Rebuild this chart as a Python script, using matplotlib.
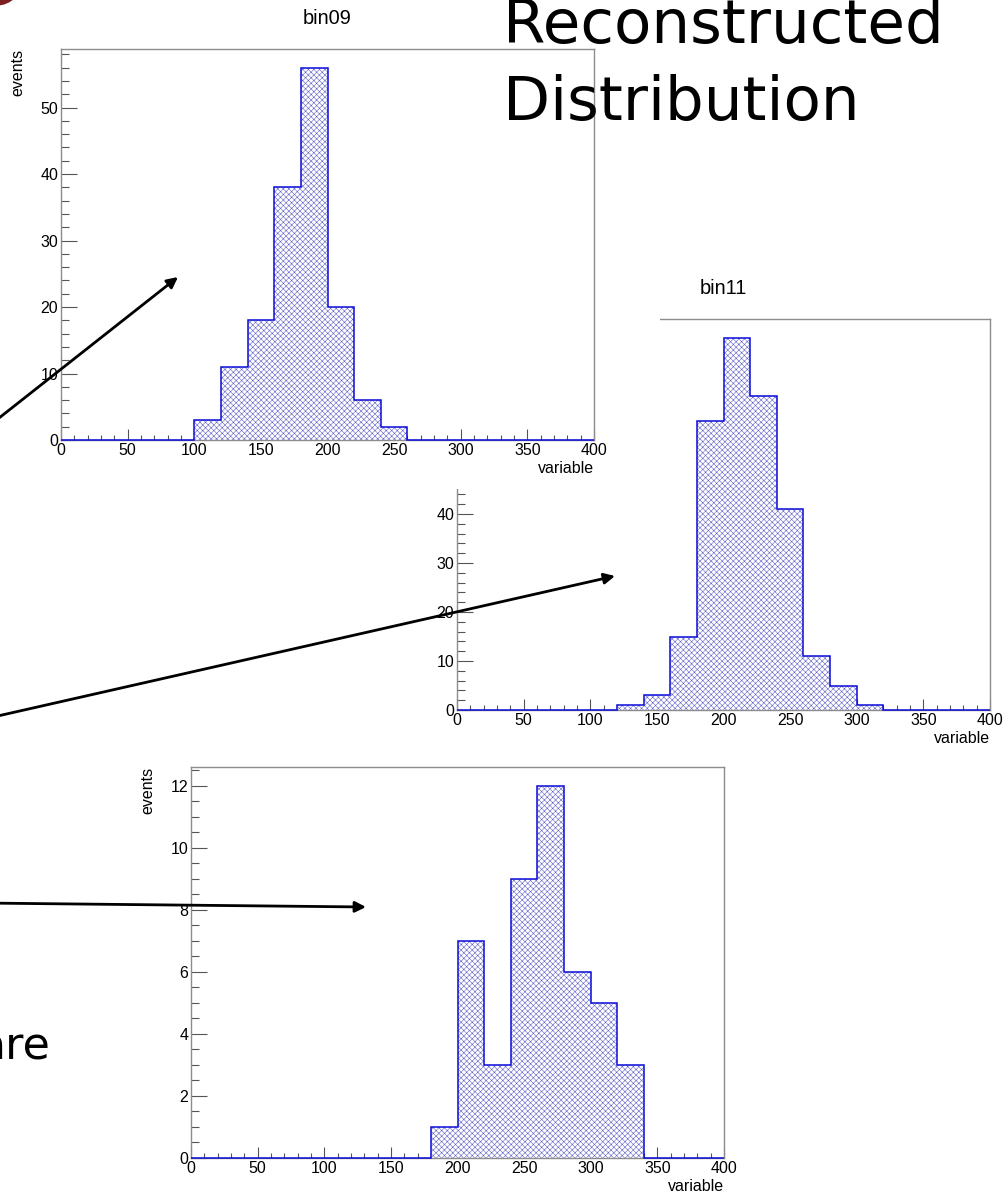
import numpy as np
import matplotlib.pyplot as plt
from matplotlib.ticker import MultipleLocator
from matplotlib.patches import Circle

plt.rcParams['font.family'] = ['Liberation Sans', 'DejaVu Sans']
plt.rcParams['hatch.linewidth'] = 0.4

# histogram contents: 20 bins of width 20 on 0..400
edges = np.arange(0, 401, 20)
bin09_counts = [0, 0, 0, 0, 0, 3, 11, 18, 38, 56, 20, 6, 2, 0, 0, 0, 0, 0, 0, 0]
bin11_counts = [0, 0, 0, 0, 0, 0, 1, 3, 15, 59, 76, 64, 41, 11, 5, 1, 0, 0, 0, 0]
bin_low_counts = [0, 0, 0, 0, 0, 0, 0, 0, 0, 1, 7, 3, 9, 12, 6, 5, 3, 0, 0, 0]

W, H = 1006, 1195
fig = plt.figure(figsize=(W / 100, H / 100), dpi=100)


def box(l, t, r, b):
    # pixel box (from the top-left corner) -> figure fraction rect
    return [l / W, 1 - b / H, (r - l) / W, (b - t) / H]


def hist_panel(rect, counts, title, ymajor, yminor, zorder):
    ax = fig.add_axes(rect, zorder=zorder)
    ax.set_facecolor('white')
    ax.stairs(counts, edges, fill=True, facecolor='white', edgecolor='#6262c8',
              hatch='xxxxxx', linewidth=0, zorder=2)
    ax.stairs(counts, edges, color='#0a0ad8', linewidth=1.1, zorder=3, clip_on=False)
    ax.set_xlim(0, 400)
    ax.set_ylim(0, max(counts) * 1.05)

    ax.xaxis.set_major_locator(MultipleLocator(50))
    ax.xaxis.set_minor_locator(MultipleLocator(10))
    ax.yaxis.set_major_locator(MultipleLocator(ymajor))
    ax.yaxis.set_minor_locator(MultipleLocator(yminor))
    ax.tick_params(which='both', direction='in', top=False, right=False,
                   color='#555555', width=0.8, labelsize=11.5, pad=2)
    ax.tick_params(axis='x', which='major', length=7.7)
    ax.tick_params(axis='x', which='minor', length=3.8)
    ax.tick_params(axis='y', which='major', length=11.5)
    ax.tick_params(axis='y', which='minor', length=5.8)
    for s in ax.spines.values():
        s.set_color('#8c8c8c')
        s.set_linewidth(1.0)

    ax.set_xlabel('variable', fontsize=11.5, loc='right')
    ax.xaxis.set_label_coords(1.0, -21 / 391)
    ax.set_ylabel('events', fontsize=11.5, loc='top')
    ax.yaxis.set_label_coords(-0.066, 1.0)
    if title:
        ax.set_title(title, fontsize=14.4, pad=18)
    return ax


# bin11 sits underneath, partly hidden by the bin09 canvas
hist_panel(box(457, 319, 990, 710), bin11_counts, 'bin11', 10, 2, zorder=1)

cover = fig.add_axes(box(0, 0, 660, 489), zorder=2)
cover.set_facecolor('white')
cover.axis('off')
cover.add_patch(plt.Rectangle((0, 0), 1, 1, transform=cover.transAxes,
                              facecolor='white', edgecolor='none'))

hist_panel(box(61, 49, 594, 440), bin09_counts, 'bin09', 10, 2, zorder=3)
hist_panel(box(191, 767, 724, 1158), bin_low_counts, None, 2, 0.5, zorder=3)

# slide overlay: headline, text fragment and arrows
ov = fig.add_axes([0, 0, 1, 1], zorder=10)
ov.set_xlim(0, W)
ov.set_ylim(H, 0)
ov.axis('off')
ov.patch.set_alpha(0)

ov.add_patch(Circle((-4, -22), 27, color='#7d1f22', clip_on=False))

head_font = dict(family=['DejaVu Sans'], color='black')
ov.text(503, 43, 'Reconstructed', fontsize=44, va='baseline', ha='left', **head_font)
ov.text(503, 120, 'Distribution', fontsize=44, va='baseline', ha='left', **head_font)
ov.text(50, 1060, 'are', fontsize=32, va='baseline', ha='right', **head_font)

arrows = [((-20, 433), (178, 277)),
          ((-20, 720), (615, 576)),
          ((-20, 903), (366, 907))]
for tail, tip in arrows:
    ov.annotate('', xy=tip, xytext=tail, xycoords='data',
                arrowprops=dict(arrowstyle='-|>', color='black', lw=2,
                                mutation_scale=16, shrinkA=0, shrinkB=0))

fig.savefig('out.png', dpi=100)
